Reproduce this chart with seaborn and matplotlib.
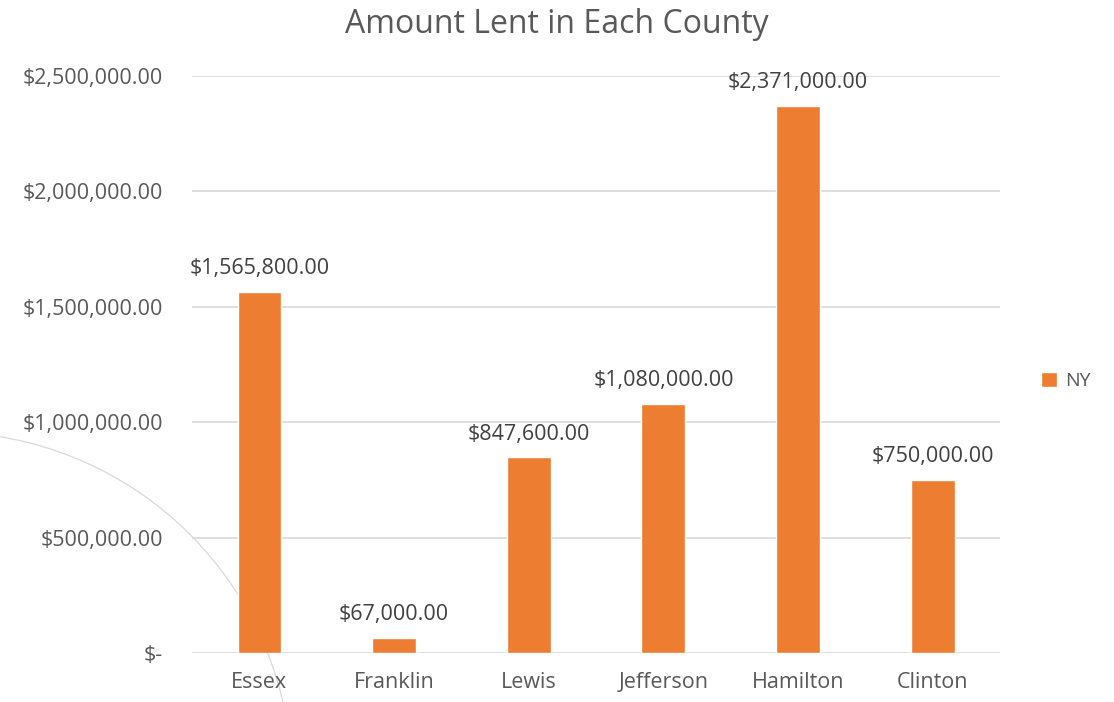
import matplotlib
matplotlib.use('Agg')
import matplotlib.pyplot as plt
import matplotlib.patches as mpatches
from matplotlib.ticker import FuncFormatter
import seaborn as sns
import pandas as pd

counties = ['Essex', 'Franklin', 'Lewis', 'Jefferson', 'Hamilton', 'Clinton']
amounts = [1565800, 67000, 847600, 1080000, 2371000, 750000]
series_name = 'NY'
yticks = [0, 500000, 1000000, 1500000, 2000000, 2500000]

bar_color = '#ED7D31'
text_color = '#595959'
grid_color = '#D9D9D9'


def money(v, pos=None):
    if v == 0:
        return '$-'
    return '${:,.2f}'.format(v)


sns.set_style('white')
plt.rcParams['font.family'] = ['Open Sans', 'DejaVu Sans']

df = pd.DataFrame({'County': counties, 'Amount': amounts})

fig = plt.figure(figsize=(11.14, 7.02), dpi=100)
ax = fig.add_axes([0.1724, 0.0698, 0.7253, 0.8219])
ax.set_facecolor('none')

# faint background arc
arc = mpatches.Circle((-0.57, -0.79), 3.49, fill=False, edgecolor=grid_color,
                      lw=0.9, transform=fig.dpi_scale_trans, zorder=-1)
fig.add_artist(arc)

sns.barplot(data=df, x='County', y='Amount', color=bar_color, saturation=1,
            width=0.325, label=series_name, ax=ax, zorder=3)

ax.set_ylim(0, 2500000)
ax.set_yticks(yticks)
ax.yaxis.set_major_formatter(FuncFormatter(money))
ax.grid(axis='y', color=grid_color, lw=1.2, zorder=0)
ax.set_axisbelow(True)
for s in ax.spines.values():
    s.set_visible(False)
ax.tick_params(axis='both', length=0, labelsize=15.5, labelcolor=text_color)
ax.tick_params(axis='y', pad=21)
ax.tick_params(axis='x', pad=14)
ax.set_xlabel('')
ax.set_ylabel('')

for i, v in enumerate(amounts):
    ax.annotate(money(v), (i, v), xytext=(0, 9), textcoords='offset points',
                ha='center', va='bottom', fontsize=15.5, color='#404040')

fig.suptitle('Amount Lent in Each County', fontsize=23, color=text_color,
             x=0.5, y=0.965, va='center')

leg = ax.legend(loc='center left', bbox_to_anchor=(0.919, 0.457),
                bbox_transform=fig.transFigure, frameon=False, fontsize=14,
                handlelength=0.8, handleheight=0.8, handletextpad=0.45)
for t in leg.get_texts():
    t.set_color(text_color)

fig.savefig('out.png', dpi=100)
